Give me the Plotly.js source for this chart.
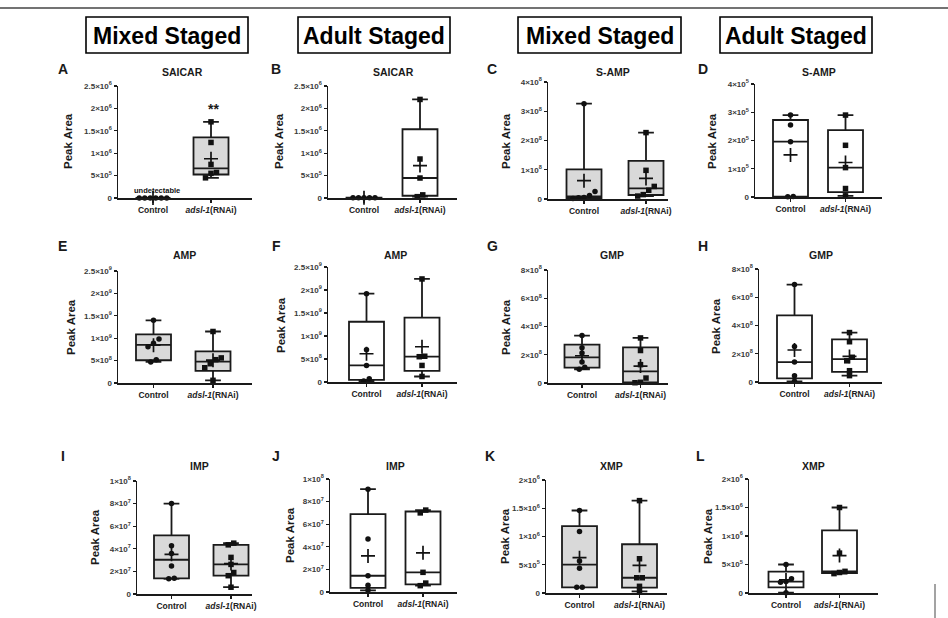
<!DOCTYPE html>
<html><head><meta charset="utf-8">
<script src="https://cdn.plot.ly/plotly-3.0.1.min.js"></script>
<style>html,body{margin:0;padding:0;background:#fff}#chart{width:948px;height:618px}</style>
</head><body><div id="chart"></div>
<script>
// ---------- text ----------
const categories = ['Control', 'adsl-1(RNAi)'];
const categoryLabels = ['<b>Control</b>', '<b><i>adsl-1</i>(RNAi)</b>'];
const stageHeaders = ['Mixed Staged', 'Adult Staged', 'Mixed Staged', 'Adult Staged'];
const panelLetters = ['A','B','C','D','E','F','G','H','I','J','K','L'];
const panelTitles = ['SAICAR','SAICAR','S-AMP','S-AMP','AMP','AMP','GMP','GMP','IMP','IMP','XMP','XMP'];
const yTitle = 'Peak Area';

// ---------- data (peak areas) ----------
const saicarMixedControl = [0, 0, 0, 0, 0, 0];
const saicarMixedAdsl    = [1.70e6, 1.24e6, 0.75e6, 0.57e6, 0.55e6, 0.45e6];
const saicarAdultControl = [8e3, 6e3, 5e3, 4e3, 3e3];
const saicarAdultAdsl    = [2.20e6, 0.87e6, 0.446e6, 0.07e6, 0.03e6];
const sampMixedControl   = [3.26e8, 0.26e8, 0.12e8, 0.05e8, 0.04e8, 0.02e8];
const sampMixedAdsl      = [2.27e8, 0.98e8, 0.43e8, 0.30e8, 0.15e8, 0.10e8];
const sampAdultControl   = [2.90e5, 2.55e5, 1.96e5, 0.02e5, 0.01e5];
const sampAdultAdsl      = [2.90e5, 1.83e5, 1.04e5, 0.30e5, 0.04e5];
const ampMixedControl    = [1.40e9, 0.98e9, 0.89e9, 0.81e9, 0.52e9, 0.47e9];
const ampMixedAdsl       = [1.15e9, 0.56e9, 0.52e9, 0.43e9, 0.34e9, 0.06e9];
const ampAdultControl    = [1.92e9, 0.70e9, 0.36e9, 0.07e9, 0.02e9];
const ampAdultAdsl       = [2.24e9, 0.56e9, 0.55e9, 0.36e9, 0.12e9];
const gmpMixedControl    = [3.36e8, 2.50e8, 2.13e8, 1.49e8, 1.12e8, 0.97e8];
const gmpMixedAdsl       = [3.19e8, 2.30e8, 1.30e8, 0.35e8, 0.05e8, 0.02e8];
const gmpAdultControl    = [6.90e8, 2.52e8, 1.41e8, 0.45e8, 0.05e8];
const gmpAdultAdsl       = [3.50e8, 2.85e8, 1.75e8, 1.50e8, 0.80e8, 0.45e8];
const impMixedControl    = [8.0e7, 4.26e7, 3.59e7, 2.47e7, 1.40e7, 1.35e7];
const impMixedAdsl       = [4.50e7, 4.35e7, 3.24e7, 2.62e7, 1.90e7, 1.62e7, 0.60e7];
const impAdultControl    = [9.10e7, 4.68e7, 1.44e7, 0.59e7, 0.15e7];
const impAdultAdsl       = [7.25e7, 7.00e7, 1.74e7, 0.79e7, 0.56e7];
const xmpMixedControl    = [1.46e6, 1.09e6, 0.565e6, 0.44e6, 0.10e6, 0.10e6];
const xmpMixedAdsl       = [1.635e6, 0.606e6, 0.27e6, 0.27e6, 0.118e6, 0.03e6];
const xmpAdultControl    = [0.50e6, 0.25e6, 0.20e6, 0.19e6, 0.006e6];
const xmpAdultAdsl       = [1.50e6, 0.70e6, 0.38e6, 0.36e6, 0.34e6];

// ---------- tick labels ----------
const ticks25e6 = [0, 5e5, 1e6, 1.5e6, 2e6, 2.5e6];
const ticks25e6Text = ['0','5×10<sup>5</sup>','1×10<sup>6</sup>','1.5×10<sup>6</sup>','2×10<sup>6</sup>','2.5×10<sup>6</sup>'];
const ticks4e8 = [0, 1e8, 2e8, 3e8, 4e8];
const ticks4e8Text = ['0','1×10<sup>8</sup>','2×10<sup>8</sup>','3×10<sup>8</sup>','4×10<sup>8</sup>'];
const ticks4e5 = [0, 1e5, 2e5, 3e5, 4e5];
const ticks4e5Text = ['0','1×10<sup>5</sup>','2×10<sup>5</sup>','3×10<sup>5</sup>','4×10<sup>5</sup>'];
const ticks25e9 = [0, 5e8, 1e9, 1.5e9, 2e9, 2.5e9];
const ticks25e9Text = ['0','5×10<sup>8</sup>','1×10<sup>9</sup>','1.5×10<sup>9</sup>','2×10<sup>9</sup>','2.5×10<sup>9</sup>'];
const ticks8e8 = [0, 2e8, 4e8, 6e8, 8e8];
const ticks8e8Text = ['0','2×10<sup>8</sup>','4×10<sup>8</sup>','6×10<sup>8</sup>','8×10<sup>8</sup>'];
const ticks1e8 = [0, 2e7, 4e7, 6e7, 8e7, 1e8];
const ticks1e8Text = ['0','2×10<sup>7</sup>','4×10<sup>7</sup>','6×10<sup>7</sup>','8×10<sup>7</sup>','1×10<sup>8</sup>'];
const ticks2e6 = [0, 5e5, 1e6, 1.5e6, 2e6];
const ticks2e6Text = ['0','5×10<sup>5</sup>','1×10<sup>6</sup>','1.5×10<sup>6</sup>','2×10<sup>6</sup>'];

// ---------- layout geometry (pixels) ----------
const W = 948, H = 618;
const MIXED = '#d9d9d9', ADULT = '#ffffff';
const panels = [
  {ctrl: saicarMixedControl, adsl: saicarMixedAdsl, tv: ticks25e6, tt: ticks25e6Text, fill: MIXED, axL:118, axR:252, yTop:86,  y0:198, c0:153,   c1:211,   L:[63,69],  T:[182,72],  Y:[68,141]},
  {ctrl: saicarAdultControl, adsl: saicarAdultAdsl, tv: ticks25e6, tt: ticks25e6Text, fill: ADULT, axL:328, axR:457, yTop:86,  y0:198, c0:364,   c1:420,   L:[276,69], T:[393,72],  Y:[279,141]},
  {ctrl: sampMixedControl,   adsl: sampMixedAdsl,   tv: ticks4e8,  tt: ticks4e8Text,  fill: MIXED, axL:548, axR:668, yTop:82,  y0:199, c0:584,   c1:646,   L:[492,69], T:[613,72],  Y:[506,141]},
  {ctrl: sampAdultControl,   adsl: sampAdultAdsl,   tv: ticks4e5,  tt: ticks4e5Text,  fill: ADULT, axL:755, axR:882, yTop:84,  y0:197, c0:790.5, c1:845.5, L:[703,69], T:[819,72],  Y:[712,141]},
  {ctrl: ampMixedControl,    adsl: ampMixedAdsl,    tv: ticks25e9, tt: ticks25e9Text, fill: MIXED, axL:118, axR:252, yTop:271, y0:383, c0:153.5, c1:213,   L:[63,246], T:[184,255], Y:[71,327]},
  {ctrl: ampAdultControl,    adsl: ampAdultAdsl,    tv: ticks25e9, tt: ticks25e9Text, fill: ADULT, axL:328, axR:457, yTop:267, y0:382, c0:366.5, c1:422,   L:[276,246],T:[395,255], Y:[281,325]},
  {ctrl: gmpMixedControl,    adsl: gmpMixedAdsl,    tv: ticks8e8,  tt: ticks8e8Text,  fill: MIXED, axL:548, axR:668, yTop:270, y0:383, c0:582,   c1:640.5, L:[492,246],T:[612,255], Y:[506,327]},
  {ctrl: gmpAdultControl,    adsl: gmpAdultAdsl,    tv: ticks8e8,  tt: ticks8e8Text,  fill: ADULT, axL:759, axR:882, yTop:269, y0:382, c0:794.5, c1:849.5, L:[703,246],T:[821,255], Y:[716,326]},
  {ctrl: impMixedControl,    adsl: impMixedAdsl,    tv: ticks1e8,  tt: ticks1e8Text,  fill: MIXED, axL:137, axR:252, yTop:481, y0:594, c0:171.5, c1:231,   L:[63,456], T:[199,466], Y:[95,537]},
  {ctrl: impAdultControl,    adsl: impAdultAdsl,    tv: ticks1e8,  tt: ticks1e8Text,  fill: ADULT, axL:330, axR:457, yTop:479, y0:592, c0:368,   c1:423,   L:[276,456],T:[395,466], Y:[290,535]},
  {ctrl: xmpMixedControl,    adsl: xmpMixedAdsl,    tv: ticks2e6,  tt: ticks2e6Text,  fill: MIXED, axL:546, axR:667, yTop:480, y0:593, c0:579.5, c1:639.5, L:[490,456],T:[611,466], Y:[505,536]},
  {ctrl: xmpAdultControl,    adsl: xmpAdultAdsl,    tv: ticks2e6,  tt: ticks2e6Text,  fill: ADULT, axL:749, axR:878, yTop:479, y0:593, c0:786,   c1:839.5, L:[700,456],T:[813,466], Y:[708,536]}
];

// GraphPad-style percentile ((n+1)p, linear interpolation)
function pct(s, p) {
  const n = s.length, r = (n + 1) * p;
  if (r <= 1) return s[0];
  if (r >= n) return s[n - 1];
  const lo = Math.floor(r), f = r - lo;
  return s[lo - 1] + f * (s[lo] - s[lo - 1]);
}
// spread points that overlap vertically (pixel space)
function swarm(vals, pxPerY, thr, step) {
  const idx = vals.map((v, i) => i).sort((a, b) => vals[a] - vals[b]);
  const off = new Array(vals.length).fill(0);
  let cl = [idx[0]];
  const flush = () => { const k = cl.length; cl.forEach((id, j) => off[id] = (j - (k - 1) / 2) * step); };
  for (let i = 1; i < idx.length; i++) {
    const prev = idx[i - 1], cur = idx[i];
    if ((vals[cur] - vals[prev]) * pxPerY < thr) cl.push(cur);
    else { flush(); cl = [cur]; }
  }
  flush();
  return off;
}

const FONT = 'Liberation Sans, Arial, Helvetica, sans-serif';
const INK = '#1a1a1a';
const traces = [];
const layout = {
  width: W, height: H, margin: {l:0, r:0, t:0, b:0}, autosize: false,
  paper_bgcolor: '#fff', plot_bgcolor: 'rgba(0,0,0,0)', showlegend: false,
  font: {family: FONT, color: INK},
  annotations: [], shapes: []
};
const px2x = x => x / W, px2y = y => 1 - y / H;

panels.forEach((p, i) => {
  const k = i + 1, sfx = k === 1 ? '' : String(k);
  const xa = 'x' + sfx, ya = 'y' + sfx;
  const u = p.c1 - p.c0;
  const ymax = p.tv[p.tv.length - 1];
  const pxPerY = (p.y0 - p.yTop) / ymax;
  layout['xaxis' + sfx] = {
    domain: [px2x(p.axL), px2x(p.axR)], range: [(p.axL - p.c0) / u, (p.axR - p.c0) / u],
    anchor: ya, tickvals: [0, 1], ticktext: categoryLabels, showgrid: false, zeroline: false,
    showline: true, linecolor: INK, linewidth: 1.5, ticks: 'outside', ticklen: 3, tickwidth: 1.3, tickcolor: INK,
    tickfont: {size: 8.5, color: '#222', family: FONT}, fixedrange: true
  };
  layout['yaxis' + sfx] = {
    domain: [px2y(p.y0), px2y(p.yTop)], range: [0, ymax], anchor: xa,
    tickvals: p.tv, ticktext: p.tt, showgrid: false, zeroline: false,
    showline: true, linecolor: INK, linewidth: 1.5, ticks: 'outside', ticklen: 3, tickwidth: 1.3, tickcolor: INK,
    tickfont: {size: 8, color: '#3a3a3a', family: FONT, weight: 'bold'}, fixedrange: true
  };
  [p.ctrl, p.adsl].forEach((vals, g) => {
    const s = vals.slice().sort((a, b) => a - b);
    const mean = vals.reduce((a, b) => a + b, 0) / vals.length;
    traces.push({
      type: 'box', orientation: 'v', x: [g], name: categories[g],
      q1: [pct(s, 0.25)], median: [pct(s, 0.5)], q3: [pct(s, 0.75)],
      lowerfence: [s[0]], upperfence: [s[s.length - 1]],
      width: 35 / u, whiskerwidth: 0.45, boxpoints: false,
      fillcolor: p.fill, line: {color: INK, width: 1.8},
      xaxis: xa, yaxis: ya, hoverinfo: 'skip'
    });
    const off = swarm(vals, pxPerY, 4.5, 5.5);
    traces.push({
      type: 'scatter', mode: 'markers', x: vals.map((v, j) => g + off[j] / u), y: vals,
      marker: {symbol: g === 0 ? 'circle' : 'square', size: 5.5, color: '#111'},
      cliponaxis: false, xaxis: xa, yaxis: ya, hoverinfo: 'skip'
    });
    traces.push({
      type: 'scatter', mode: 'markers', x: [g], y: [mean],
      marker: {symbol: 'cross-thin', size: 10, line: {width: 1.7, color: '#111'}},
      cliponaxis: false, xaxis: xa, yaxis: ya, hoverinfo: 'skip'
    });
  });
  const ann = (text, x, y, size, extra) => layout.annotations.push(Object.assign({
    text, x: px2x(x), y: px2y(y), xref: 'paper', yref: 'paper', showarrow: false,
    xanchor: 'center', yanchor: 'middle', font: {size, family: FONT, color: INK}
  }, extra || {}));
  ann('<b>' + panelLetters[i] + '</b>', p.L[0], p.L[1], 14);
  ann('<b>' + panelTitles[i] + '</b>', p.T[0], p.T[1], 10.5);
  ann('<b>' + yTitle + '</b>', p.Y[0], p.Y[1], 11.5, {textangle: -90});
  if (i === 0) {
    ann('<b>undetectable</b>', p.c0 + 4, 190.5, 7.5, {font: {size: 7.5, family: FONT, color: '#111'}});
    ann('<b>**</b>', p.c1 + 2, 109, 14);
  }
});

// stage header boxes
const headerBoxes = [[86, 248], [298, 450], [518, 681], [720, 872]];
headerBoxes.forEach((b, j) => {
  layout.shapes.push({type: 'rect', xref: 'paper', yref: 'paper', x0: px2x(b[0]), x1: px2x(b[1]), y0: px2y(53), y1: px2y(17), line: {color: '#000', width: 1.6}});
  layout.annotations.push({text: '<b>' + stageHeaders[j] + '</b>', x: px2x((b[0] + b[1]) / 2), y: px2y(35.5), xref: 'paper', yref: 'paper', showarrow: false, xanchor: 'center', yanchor: 'middle', font: {size: 23, family: FONT, color: '#000'}});
});
// frame lines
layout.shapes.push({type: 'line', xref: 'paper', yref: 'paper', x0: 0, x1: 1, y0: px2y(8), y1: px2y(8), line: {color: '#444', width: 1.5}});
layout.shapes.push({type: 'line', xref: 'paper', yref: 'paper', x0: px2x(935), x1: px2x(935), y0: px2y(584), y1: 0, line: {color: '#666', width: 1.2}});

Plotly.newPlot('chart', traces, layout, {staticPlot: true, displayModeBar: false});
</script></body></html>
